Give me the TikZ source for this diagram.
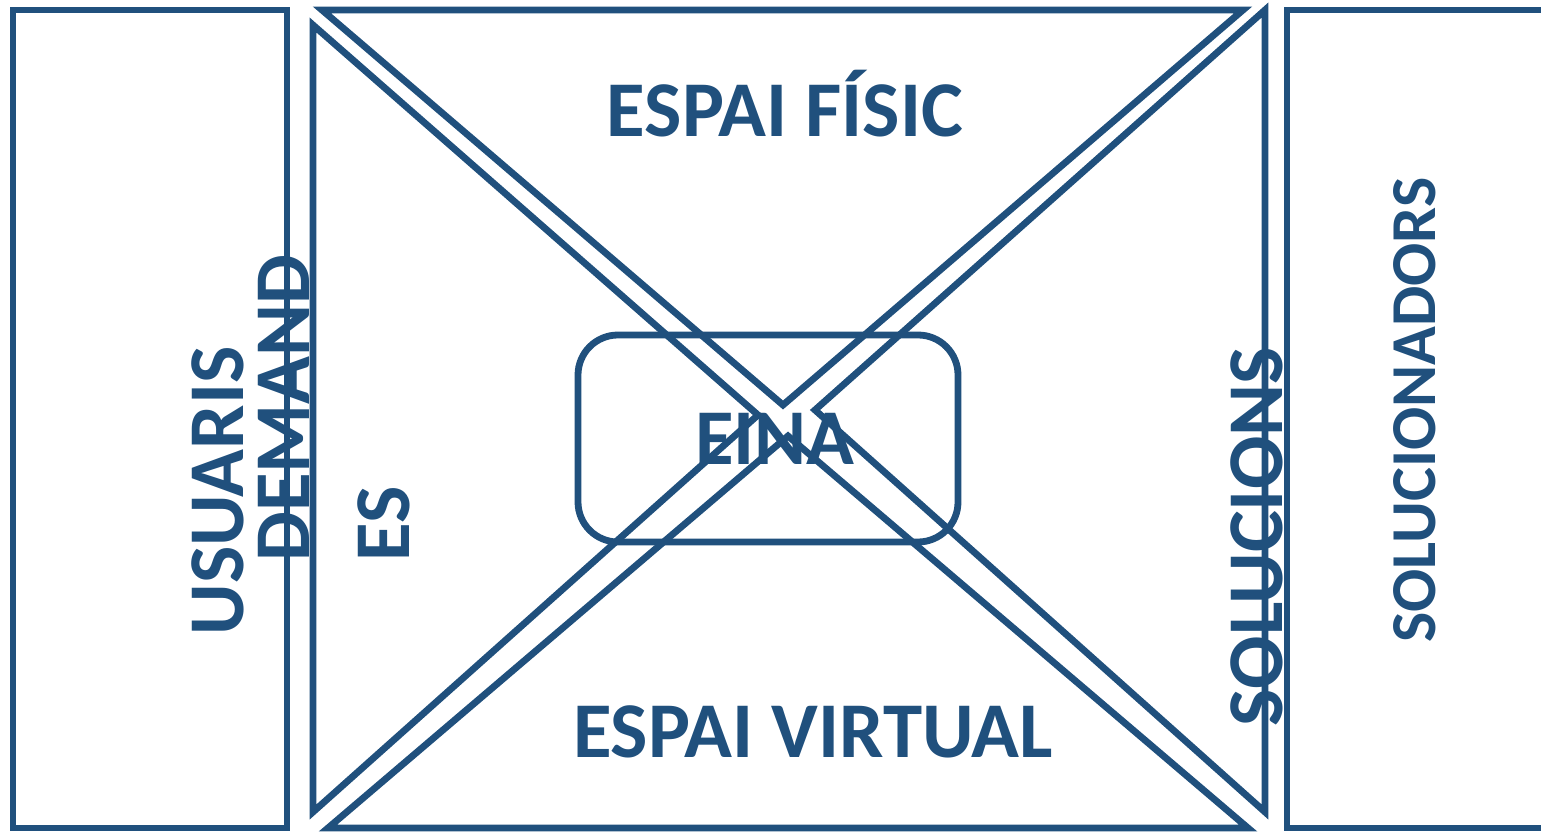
\documentclass[tikz,border=0pt]{standalone}
\usepackage{fontspec}
\setmainfont{Carlito}
\usepackage{tikz}
\usetikzlibrary{positioning}
\usepackage{xcolor}
\definecolor{einablue}{RGB}{32,80,125}

\begin{document}
\begin{tikzpicture}[x=0.5pt, y=-0.5pt,
		frame/.style={draw=einablue, line width=3.4pt},
		label/.style={text=einablue, inner sep=0pt, font=\bfseries\fontsize{39.5}{50}\selectfont},
		sidelabel/.style={label, rotate=90, anchor=base}]
		\clip (0,0) rectangle (1541,833);
		
		% side boxes
		\draw [frame] (13,10) rectangle (287,828);
		\draw [frame] (1287,10) rectangle (1580,828);
		
		% the four spaces
		\draw [frame] (322,10) -- (1243,10) -- (783,405) -- cycle;
		\draw [frame] (313,25) -- (758,415) -- (313,812) -- cycle;
		\draw [frame] (1265,10) -- (1265,812) -- (815,410) -- cycle;
		\draw [frame] (328,828) -- (788,436) -- (1248,828) -- cycle;
		
		\node (eina) [frame, label, rounded corners=20pt, minimum width=190pt, minimum height=103.5pt] at (768,438.5) {\hspace*{7pt}EINA};
		
		\node (fisic) [label, anchor=base] at (785,137) {ESPAI FÍSIC};
		\node (virtual) [label, anchor=base] at (813,757) {ESPAI VIRTUAL};
		
		\node (usuaris) [sidelabel] at (243,491) {USUARIS};
		\node (demandes) [label, rotate=90, align=left, anchor=north west] at (258,562) {DEMAND\\ES};
		\node (solucions) [sidelabel] at (1282,537) {SOLUCIONS};
		\node (solucionadors) [sidelabel, font=\bfseries\fontsize{32}{40}\selectfont] at (1435,410) {SOLUCIONADORS};
		
	\end{tikzpicture}
\end{document}
